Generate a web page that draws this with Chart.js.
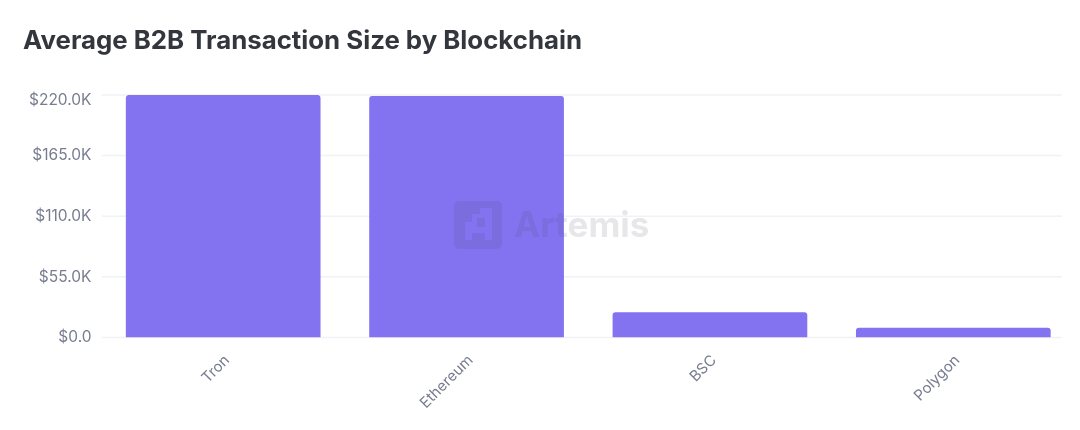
<!DOCTYPE html>
<html>
<head>
<meta charset="utf-8">
<title>Average B2B Transaction Size by Blockchain</title>
<script src="https://cdn.jsdelivr.net/npm/chart.js@4"></script>
<style>
  html, body { margin: 0; padding: 0; background: #fff; }
  canvas { display: block; }
</style>
</head>
<body>
<canvas id="barChart" width="1080" height="430"></canvas>
<script>
const chartTitle = 'Average B2B Transaction Size by Blockchain';
const categories = ['Tron', 'Ethereum', 'BSC', 'Polygon'];
const txSize = [220000, 219000, 23000, 8900];
const yTicks = [0, 55000, 110000, 165000, 220000];
const watermark = 'Artemis';

function money(v){
  if(v == 0) return '$0.0';
  return '$' + (v / 1000).toFixed(1) + 'K';
}

// grid lines stop short of the right edge of the bars area
const shortGrid = {
  id: 'shortGrid',
  beforeDatasetsDraw(chart){
    const c = chart.ctx;
    const y = chart.scales.y;
    c.save();
    c.strokeStyle = '#f1f2f5';
    c.lineWidth = 1.5;
    yTicks.forEach(function(t){
      c.beginPath();
      c.moveTo(102, y.getPixelForValue(t));
      c.lineTo(1062, y.getPixelForValue(t));
      c.stroke();
    });
    c.restore();
  }
};

// top tick label sits a bit under its grid line in the original
const nudgeTopLabel = {
  id: 'nudgeTopLabel',
  beforeDraw(chart){
    const items = chart.scales.y.getLabelItems();
    items[items.length - 1].options.translation[1] += 5;
  }
};

const artemisMark = {
  id: 'artemisMark',
  afterDatasetsDraw(chart){
    const c = chart.ctx;
    c.save();
    c.fillStyle = 'rgba(70,70,95,0.13)';
    c.beginPath();
    c.roundRect(454, 201, 48, 48, 5);
    // cut-out pixel letter
    c.moveTo(480, 208);
    c.lineTo(480, 214);
    c.lineTo(472, 214);
    c.lineTo(472, 222);
    c.lineTo(465, 222);
    c.lineTo(465, 240);
    c.lineTo(472, 240);
    c.lineTo(472, 233);
    c.lineTo(485, 233);
    c.lineTo(485, 240);
    c.lineTo(492, 240);
    c.lineTo(492, 208);
    c.closePath();
    c.rect(477, 218, 8, 9);
    c.fill('evenodd');
    c.font = '700 35px Inter';
    c.textBaseline = 'middle';
    c.fillText(watermark, 514, 226);
    c.restore();
  }
};

const ctx = document.getElementById('barChart');

new Chart(ctx, {
  type: 'bar',
  data: {
    labels: categories,
    datasets: [{
      data: txSize,
      backgroundColor: '#8373f0',
      borderRadius: { topLeft: 3, topRight: 3 },
      borderSkipped: 'bottom',
      categoryPercentage: 0.8,
      barPercentage: 1
    }]
  },
  options: {
    responsive: false,
    animation: false,
    layout: { padding: { left: 23, right: 5, top: 0, bottom: 0 } },
    plugins: {
      legend: { display: false },
      tooltip: { enabled: false },
      title: {
        display: true,
        text: chartTitle,
        align: 'start',
        color: '#33363d',
        font: { family: 'Inter', size: 25.8, weight: '700' },
        padding: { top: 26, bottom: 38 }
      }
    },
    scales: {
      x: {
        grid: { display: false },
        border: { display: false },
        ticks: {
          color: '#777d8f',
          font: { family: 'Inter', size: 15 },
          minRotation: 45,
          maxRotation: 45,
          padding: 6,
          labelOffset: 4
        },
        afterFit(axis){ axis.height = 92.5; }
      },
      y: {
        min: 0,
        max: 220000,
        grid: { display: false },
        border: { display: false },
        afterBuildTicks(axis){ axis.ticks = yTicks.map(function(v){ return { value: v }; }); },
        ticks: {
          color: '#777d8f',
          font: { family: 'Inter', size: 15.5 },
          padding: 2,
          callback: money
        },
        afterFit(axis){ axis.width = 78.5; }
      }
    }
  },
  plugins: [nudgeTopLabel, shortGrid, artemisMark]
});
</script>
</body>
</html>
